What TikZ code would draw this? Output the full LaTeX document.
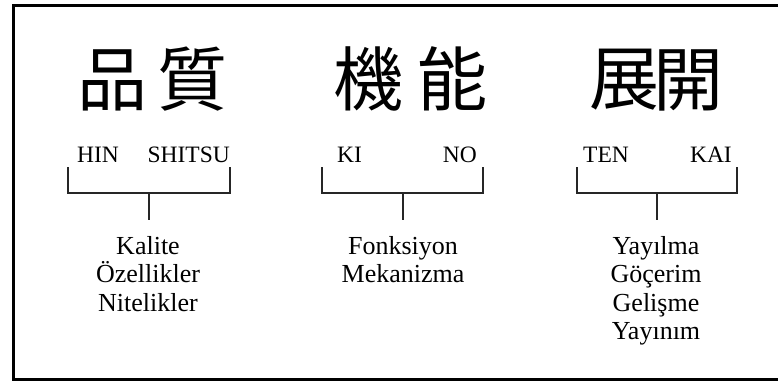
\documentclass[tikz,border=0pt]{standalone}
\usepackage{fontspec}
\setmainfont{Liberation Serif}
\newfontfamily\cjk{Noto Sans CJK JP}
\begin{document}
\begin{tikzpicture}[x=1pt,y=-1pt,
  kanji/.style={inner sep=0pt,font=\cjk\fontsize{70}{70}\selectfont},
  reading/.style={inner sep=0pt,font=\fontsize{23.5}{26}\selectfont},
  meaning/.style={inner sep=0pt,align=center,anchor=north,font=\fontsize{26}{28.5}\selectfont},
  brace/.style={draw=black!85,line width=1.4pt},
  frame/.style={draw=black,line width=3pt}]
\useasboundingbox (0,0) rectangle (778,381);
\draw[frame] (790,5.5) -- (13,5.5) -- (13,379) -- (790,379);
% kanji
\node[kanji] (k1) at (112,80) {品};
\node[kanji] (k2) at (192,79) {質};
\node[kanji] (k3) at (368,79) {機};
\node[kanji] (k4) at (452,79) {能};
\node[kanji] (k5) at (624,80) {展};
\node[kanji] (k6) at (688,80) {開};
% readings
\node[reading,anchor=base west] (r1) at (77,162) {HIN};
\node[reading,anchor=base east] (r2) at (230,162) {SHITSU};
\node[reading,anchor=base west] (r3) at (337,162) {KI};
\node[reading,anchor=base east] (r4) at (477,162) {NO};
\node[reading,anchor=base west] (r5) at (583,162) {TEN};
\node[reading,anchor=base east] (r6) at (732,162) {KAI};
% brackets
\foreach \n/\l/\r/\m in {a/68/230/149, b/322/483/403, c/577/737/657}{
  \coordinate (\n tl) at (\l,167);
  \coordinate (\n bl) at (\l,193);
  \coordinate (\n br) at (\r,193);
  \coordinate (\n tr) at (\r,167);
  \coordinate (\n sm) at (\m,193);
  \coordinate (\n se) at (\m,220);
  \draw[brace] (\n tl) -- (\n bl) -- (\n br) -- (\n tr);
  \draw[brace] (\n sm) -- (\n se);
}
% meanings
\node[meaning] (m1) at (148,236) {Kalite\\Özellikler\\Nitelikler};
\node[meaning] (m2) at (403,236) {Fonksiyon\\Mekanizma};
\node[meaning] (m3) at (656,236) {Yayılma\\Göçerim\\Gelişme\\Yayınım};
\end{tikzpicture}
\end{document}
